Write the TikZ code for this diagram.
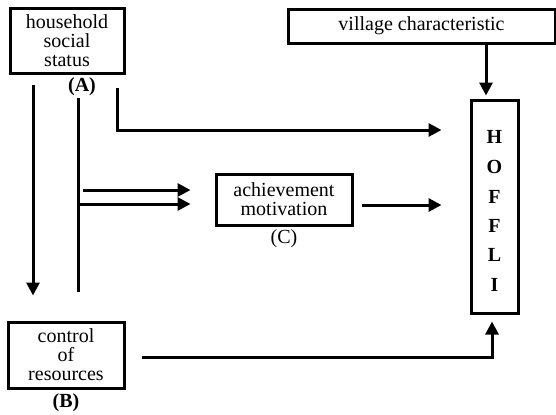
\documentclass[tikz,border=0pt]{standalone}
\usepackage{fontspec}
\setmainfont{Liberation Serif}
\usetikzlibrary{arrows.meta}

% text size used in every box
\newcommand{\boxfont}{\fontsize{10pt}{9.5pt}\selectfont}

\tikzset{
  box/.style={draw, line width=1.5pt, inner sep=0pt, align=center, font=\boxfont},
  tag/.style={inner sep=0pt, font=\boxfont\bfseries},
  conn/.style={line width=1.5pt},
  arr/.style={line width=1.5pt, -{Triangle[length=6.5pt,width=6.5pt]}}
}

\begin{document}
\begin{tikzpicture}[x=0.5pt,y=-0.5pt]
% fix the page size
\useasboundingbox (0,0) rectangle (556,414);

% boxes
\node[box, minimum width=57pt, minimum height=32.5pt] (hss) at (67,41) {household\\social\\status};
\node[box, minimum width=58pt, minimum height=33pt] (res) at (66,355) {control\\of\\resources};
\node[box, minimum width=68pt, minimum height=25.5pt] (ach) at (284,199.5) {achievement\\motivation};
\node[box, minimum width=133.5pt, minimum height=17pt] (vil) at (421.5,26) {village characteristic};
\node[box, minimum width=23.5pt, minimum height=106.5pt] (hof) at (494.5,206.5) {};
\node[tag] (hofH) at (494.5,137) {H};
\node[tag] (hofO) at (494.5,167) {O};
\node[tag] (hofF) at (494.5,197) {F};
\node[tag] (hofFF) at (494.5,226) {F};
\node[tag] (hofL) at (494.5,255) {L};
\node[tag] (hofI) at (494.5,285) {I};

% letters under the boxes
\node[tag] (labA) at (82,87) {(A)};
\node[tag] (labB) at (66,403) {(B)};
\node[tag, font=\boxfont] (labC) at (284,239) {(C)};

% village characteristic down into HOFFLI
\draw[arr, shorten >=1.5pt] ([xshift=-4.25pt]hof.north |- vil.south) -- ([xshift=-4.25pt]hof.north);

% (A) straight to HOFFLI
\draw[arr, shorten <=6.5pt, shorten >=14pt]
  ([xshift=-4pt]hss.south east) |- ([yshift=38.25pt]hof.west);

% (A) down to (B)
\draw[arr, shorten <=5pt, shorten >=12.5pt] ([xshift=-17pt]hss.south) -- ([xshift=-17pt]hss.south |- res.north);

% (A) through to (C)
\coordinate (midtop) at ([xshift=-2pt,yshift=-1pt]labA.south);
\coordinate (midbot) at (midtop |- res.north);
\draw[conn, shorten >=14.5pt] (midtop) -- (midbot);
\draw[arr, shorten <=2.5pt, shorten >=12pt] ([yshift=4.75pt]ach.west -| midtop) -- ([yshift=4.75pt]ach.west);
\draw[arr, shorten >=12pt] ([yshift=-2.25pt]ach.west -| midtop) -- ([yshift=-2.25pt]ach.west);

% (C) to HOFFLI
\draw[arr, shorten <=4pt, shorten >=14pt] ([yshift=-2.75pt]ach.east) -- ([yshift=-2.75pt]ach.east -| hof.west);

% (B) round to HOFFLI
\draw[arr, shorten <=8pt, shorten >=3.5pt] ([yshift=-1pt]res.east) -| ([xshift=-1.25pt]hof.south);

\end{tikzpicture}
\end{document}
